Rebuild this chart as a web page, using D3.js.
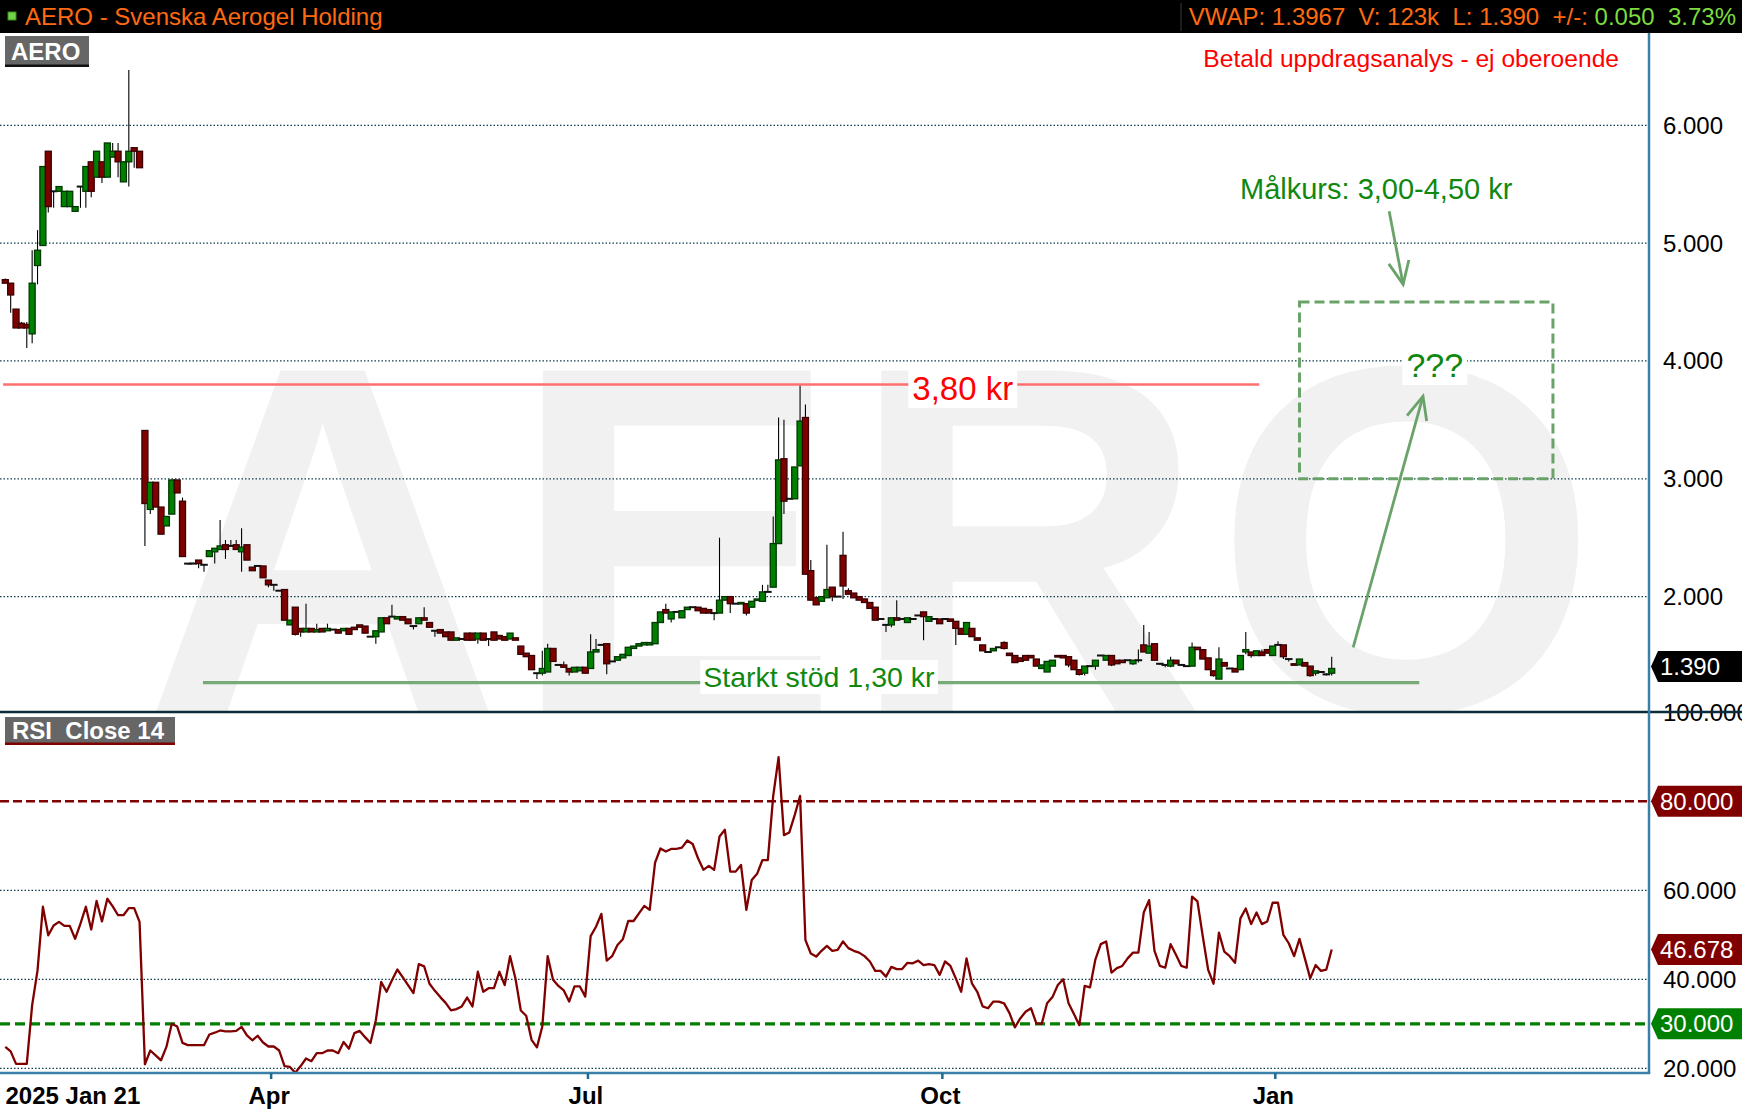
<!DOCTYPE html>
<html>
<head>
<meta charset="utf-8">
<script src="https://cdn.jsdelivr.net/npm/d3@7"></script>
<style>
html,body{margin:0;padding:0;background:#fff;overflow:hidden}
svg{display:block;font-family:"Liberation Sans",Arial,sans-serif}
</style>
</head>
<body>
<div id="chart"></div>
<script>
/* handelsdagar: första dag, dag efter sista, stängda dagar */
var firstDay = "2025-01-21", endDay = "2026-01-20";
var holidays = ["2025-04-18","2025-04-21","2025-05-01","2025-05-29","2025-06-06","2025-06-20",
  "2025-12-24","2025-12-25","2025-12-26","2025-12-31","2026-01-01","2026-01-06"];
var tickMonths = [3, 6, 9, 0];

/* kursdata (öppning, högsta, lägsta, stängning) */
var opens = [4.69,4.66,4.44,4.32,4.31,4.23,4.81,4.98,5.78,5.44,
  5.44,5.31,5.31,5.27,5.48,5.44,5.69,5.56,5.69,5.56,
  5.73,5.78,5.52,5.69,5.81,5.78,3.41,2.74,2.97,2.76,
  2.60,2.70,2.99,2.81,2.28,2.28,2.31,2.27,2.34,2.38,
  2.40,2.44,2.43,2.44,2.38,2.44,2.25,2.26,2.26,2.14,
  2.10,2.05,2.06,1.76,1.91,1.73,1.70,1.73,1.70,1.73,
  1.71,1.72,1.72,1.71,1.73,1.74,1.76,1.75,1.66,1.66,
  1.70,1.82,1.83,1.81,1.83,1.81,1.75,1.77,1.82,1.78,
  1.71,1.72,1.70,1.70,1.63,1.64,1.69,1.69,1.64,1.69,
  1.64,1.70,1.67,1.66,1.64,1.65,1.58,1.52,1.50,1.35,
  1.35,1.36,1.56,1.42,1.42,1.39,1.36,1.37,1.40,1.39,
  1.53,1.59,1.60,1.45,1.46,1.48,1.50,1.56,1.58,1.59,
  1.59,1.60,1.78,1.89,1.81,1.87,1.82,1.89,1.91,1.91,
  1.90,1.89,1.86,1.86,1.97,2.00,1.94,1.94,1.94,1.91,
  1.97,1.96,2.04,2.08,2.45,3.17,2.83,2.83,3.11,3.52,
  2.22,1.99,1.96,1.99,2.08,2.00,2.35,2.05,2.03,2.00,
  1.98,1.95,1.91,1.81,1.76,1.76,1.82,1.81,1.78,1.81,
  1.84,1.87,1.79,1.81,1.81,1.81,1.81,1.79,1.73,1.68,
  1.73,1.65,1.59,1.53,1.54,1.57,1.61,1.52,1.50,1.48,
  1.50,1.50,1.47,1.39,1.36,1.41,1.50,1.50,1.49,1.46,
  1.38,1.35,1.41,1.41,1.50,1.46,1.50,1.46,1.46,1.46,
  1.43,1.46,1.59,1.52,1.60,1.43,1.42,1.41,1.46,1.42,
  1.41,1.41,1.57,1.55,1.48,1.37,1.30,1.44,1.39,1.39,
  1.38,1.53,1.53,1.50,1.53,1.55,1.50,1.59,1.59,1.47,
  1.43,1.42,1.44,1.41,1.35,1.36,1.34,1.35];
var highs = [4.70,4.66,4.44,4.33,4.33,4.94,5.11,5.65,5.78,5.44,
  5.48,5.44,5.44,5.31,5.48,5.65,5.69,5.78,5.69,5.85,
  5.85,5.85,5.69,6.47,5.81,5.78,3.41,2.97,2.97,2.76,
  2.68,2.99,2.99,2.84,2.28,2.29,2.31,2.27,2.39,2.41,
  2.65,2.48,2.48,2.48,2.58,2.44,2.25,2.26,2.26,2.14,
  2.10,2.05,2.06,1.80,1.91,1.73,1.94,1.73,1.77,1.73,
  1.77,1.72,1.72,1.73,1.73,1.74,1.76,1.75,1.66,1.71,
  1.82,1.82,1.93,1.83,1.83,1.81,1.75,1.82,1.91,1.78,
  1.71,1.72,1.70,1.70,1.65,1.64,1.69,1.69,1.69,1.69,
  1.64,1.70,1.67,1.66,1.69,1.65,1.58,1.52,1.50,1.35,
  1.54,1.60,1.56,1.42,1.45,1.39,1.40,1.40,1.40,1.68,
  1.64,1.59,1.60,1.45,1.49,1.51,1.57,1.58,1.60,1.61,
  1.61,1.78,1.87,1.94,1.87,1.87,1.88,1.91,1.91,1.91,
  1.90,1.89,1.86,2.50,2.00,2.00,1.94,1.95,1.94,1.96,
  1.98,2.10,2.10,2.68,3.52,3.50,2.83,3.10,3.79,3.63,
  2.31,1.99,2.00,2.44,2.08,2.00,2.55,2.07,2.03,2.00,
  1.98,1.95,1.91,1.81,1.76,1.82,1.97,1.81,1.82,1.81,
  1.84,1.87,1.83,1.81,1.81,1.81,1.81,1.79,1.73,1.78,
  1.73,1.65,1.59,1.53,1.56,1.57,1.62,1.52,1.50,1.48,
  1.50,1.50,1.47,1.42,1.45,1.46,1.50,1.50,1.49,1.46,
  1.38,1.41,1.41,1.46,1.50,1.50,1.50,1.46,1.46,1.46,
  1.46,1.55,1.76,1.70,1.60,1.43,1.42,1.49,1.46,1.42,
  1.41,1.61,1.57,1.55,1.48,1.37,1.57,1.44,1.39,1.39,
  1.50,1.70,1.53,1.54,1.55,1.55,1.58,1.62,1.59,1.47,
  1.43,1.47,1.44,1.41,1.37,1.36,1.35,1.49];
var lows = [4.66,4.41,4.28,4.28,4.11,4.15,4.65,4.98,5.26,5.30,
  5.44,5.31,5.31,5.27,5.30,5.30,5.39,5.56,5.51,5.56,
  5.73,5.56,5.52,5.48,5.64,5.64,2.43,2.70,2.76,2.53,
  2.60,2.70,2.88,2.34,2.27,2.28,2.24,2.21,2.34,2.28,
  2.40,2.32,2.43,2.40,2.21,2.31,2.22,2.26,2.16,2.08,
  2.05,2.05,1.80,1.76,1.67,1.66,1.70,1.70,1.70,1.70,
  1.71,1.72,1.69,1.71,1.68,1.72,1.74,1.69,1.66,1.60,
  1.70,1.77,1.83,1.81,1.80,1.77,1.72,1.77,1.80,1.74,
  1.66,1.69,1.66,1.63,1.63,1.64,1.63,1.63,1.60,1.63,
  1.58,1.63,1.64,1.63,1.64,1.63,1.51,1.49,1.38,1.30,
  1.33,1.36,1.45,1.42,1.40,1.33,1.36,1.37,1.35,1.39,
  1.53,1.59,1.34,1.45,1.46,1.48,1.50,1.56,1.58,1.59,
  1.59,1.60,1.78,1.86,1.78,1.87,1.82,1.89,1.91,1.88,
  1.86,1.86,1.80,1.86,1.97,1.86,1.94,1.94,1.84,1.91,
  1.97,1.96,2.04,2.08,2.45,2.70,2.83,2.83,3.11,2.19,
  1.97,1.93,1.96,1.99,1.96,2.00,1.98,2.02,1.99,1.97,
  1.95,1.90,1.80,1.81,1.70,1.74,1.80,1.81,1.78,1.81,
  1.84,1.63,1.79,1.81,1.77,1.81,1.79,1.59,1.68,1.68,
  1.66,1.63,1.54,1.53,1.54,1.57,1.55,1.50,1.44,1.45,
  1.46,1.48,1.41,1.39,1.36,1.41,1.49,1.48,1.40,1.38,
  1.33,1.33,1.41,1.38,1.50,1.46,1.41,1.43,1.44,1.46,
  1.42,1.44,1.53,1.52,1.46,1.42,1.40,1.40,1.43,1.42,
  1.41,1.41,1.55,1.47,1.38,1.32,1.30,1.41,1.39,1.36,
  1.38,1.51,1.48,1.50,1.50,1.52,1.50,1.59,1.47,1.45,
  1.42,1.42,1.41,1.32,1.33,1.36,1.33,1.33];
var closes = [4.66,4.56,4.28,4.28,4.28,4.66,4.94,5.65,5.31,5.44,
  5.48,5.44,5.44,5.31,5.48,5.65,5.44,5.78,5.56,5.85,
  5.78,5.69,5.69,5.78,5.78,5.64,2.79,2.97,2.76,2.53,
  2.68,2.99,2.88,2.34,2.28,2.28,2.28,2.27,2.39,2.41,
  2.43,2.40,2.43,2.40,2.42,2.31,2.22,2.26,2.16,2.10,
  2.10,2.05,1.80,1.80,1.68,1.70,1.73,1.70,1.72,1.70,
  1.73,1.72,1.69,1.73,1.68,1.72,1.74,1.69,1.66,1.71,
  1.82,1.77,1.83,1.83,1.80,1.77,1.75,1.82,1.80,1.74,
  1.71,1.69,1.66,1.63,1.65,1.64,1.63,1.63,1.69,1.63,
  1.64,1.63,1.64,1.63,1.69,1.63,1.51,1.49,1.38,1.35,
  1.39,1.56,1.45,1.42,1.40,1.36,1.40,1.40,1.35,1.53,
  1.55,1.59,1.43,1.45,1.49,1.51,1.57,1.58,1.60,1.61,
  1.61,1.78,1.87,1.86,1.87,1.87,1.88,1.91,1.91,1.88,
  1.86,1.86,1.86,1.97,2.00,1.94,1.94,1.95,1.86,1.96,
  1.98,2.04,2.04,2.45,3.16,2.81,2.83,3.10,3.49,2.19,
  1.97,1.93,2.00,2.06,2.00,2.00,2.09,2.02,1.99,1.97,
  1.95,1.90,1.80,1.81,1.76,1.82,1.80,1.81,1.82,1.81,
  1.84,1.83,1.83,1.81,1.77,1.81,1.79,1.73,1.68,1.78,
  1.66,1.63,1.54,1.53,1.56,1.57,1.56,1.50,1.44,1.45,
  1.46,1.48,1.41,1.42,1.45,1.46,1.49,1.48,1.42,1.38,
  1.34,1.41,1.41,1.46,1.50,1.50,1.42,1.43,1.44,1.46,
  1.46,1.46,1.53,1.58,1.46,1.43,1.42,1.46,1.43,1.42,
  1.41,1.57,1.55,1.47,1.38,1.33,1.47,1.41,1.39,1.36,
  1.50,1.55,1.50,1.54,1.50,1.52,1.58,1.59,1.49,1.47,
  1.42,1.47,1.41,1.33,1.37,1.36,1.34,1.39];

/* RSI Close 14 */
var rsi = [24.8,23.8,21.0,21.0,21.0,34.2,42.0,56.3,49.9,52.1,
  52.9,52.0,52.0,49.1,52.5,56.3,51.2,57.6,53.0,58.1,
  56.4,54.4,54.4,56.0,56.0,52.9,20.9,24.0,22.9,21.8,
  24.8,30.0,29.4,25.7,25.2,25.2,25.2,25.2,27.6,28.0,
  28.5,28.3,28.3,28.4,29.3,27.4,26.3,27.3,25.8,24.9,
  24.9,24.0,20.5,20.3,19.0,20.5,22.2,21.6,23.4,23.4,
  24.0,24.0,23.4,25.9,24.4,27.9,28.4,27.0,25.7,30.8,
  39.4,37.2,39.8,42.2,40.5,38.7,36.9,43.4,42.9,39.0,
  37.4,36.0,34.7,33.0,33.3,33.9,35.9,33.9,41.7,37.2,
  38.0,38.0,41.7,38.7,45.2,40.2,33.0,31.8,26.4,24.7,
  29.4,45.2,39.9,38.5,37.5,35.0,38.4,38.4,36.1,49.7,
  51.8,54.7,44.2,45.2,47.7,49.0,53.1,53.1,54.8,56.5,
  55.6,66.2,69.4,68.7,69.3,69.3,69.6,71.2,70.4,67.2,
  64.6,65.5,64.6,72.1,73.6,64.2,64.2,65.7,55.6,62.3,
  63.7,66.8,66.8,81.2,89.9,72.4,73.0,76.9,81.2,48.8,
  45.8,45.1,46.4,47.5,46.4,46.6,48.5,47.0,46.4,46.0,
  45.2,44.0,41.9,41.9,40.6,42.8,42.3,42.3,43.7,43.6,
  44.2,43.2,43.4,43.2,41.0,44.0,43.0,40.2,37.2,44.7,
  39.1,37.2,33.9,33.5,35.0,35.0,34.6,32.4,29.2,31.2,
  32.7,33.5,30.1,30.0,34.6,36.0,38.7,40.0,34.6,32.2,
  29.7,38.5,38.2,44.5,47.9,48.5,41.5,42.5,43.0,44.7,
  46.0,46.0,55.0,57.8,46.4,43.0,42.6,47.9,45.5,43.0,
  42.6,58.6,57.5,49.6,42.1,39.0,50.5,46.2,45.2,43.7,
  53.7,55.9,52.4,55.0,52.4,53.0,57.2,57.2,50.0,48.1,
  45.2,49.1,44.7,40.2,43.2,41.9,42.2,46.7];

var priceTicks = [2, 3, 4, 5, 6];
var rsiGrid = [20, 40, 60];
var rsiTicks = [20, 40, 60, 100];
var rsiOver = 80, rsiUnder = 30;
var lastPrice = 1.390, lastRsi = 46.678;
var resistance = 3.80, support = 1.27;
var target = [3.00, 4.50];
var headerLeft = "AERO - Svenska Aerogel Holding";
var headerQuote = "VWAP: 1.3967  V: 123k  L: 1.390  +/-: ";
var headerChange = "0.050  3.73%";

/* mått */
var W = 1742, H = 1113;
var axisX = 1649, barH = 33, split = 712, rsiBottom = 1073;
var gridColor = "#0e3d50", axisColor = "#3a7fa8", annColor = "#6aa36a";

var fmtDay = d3.timeFormat("%Y-%m-%d");
var parseDay = d3.timeParse("%Y-%m-%d");
var days = d3.timeDay.range(parseDay(firstDay), parseDay(endDay)).filter(function (d) {
    var w = d.getDay();
    return w > 0 && w < 6 && holidays.indexOf(fmtDay(d)) < 0;
});

var n = closes.length;
var x = d3.scaleLinear().domain([0, n - 1]).range([5.3, 1331.7]);
var y = d3.scaleLinear().domain([2, 6]).range([596.6, 125.3]);
var yR = d3.scaleLinear().domain([20, 80]).range([1068.3, 801.3]);

var svg = d3.select("#chart").append("svg")
    .attr("width", W).attr("height", H)
    .style("background", "#fff");

var defs = svg.append("defs");
defs.append("clipPath").attr("id", "clipP").append("rect")
    .attr("x", 0).attr("y", barH).attr("width", axisX).attr("height", split - barH);
defs.append("clipPath").attr("id", "clipR").append("rect")
    .attr("x", 0).attr("y", split).attr("width", axisX).attr("height", rsiBottom - split);

/* kurspanel */
var gP = svg.append("g").attr("clip-path", "url(#clipP)");

gP.append("text")
    .attr("x", 144).attr("y", 711)
    .attr("font-size", 495).attr("font-weight", "bold")
    .attr("fill", "#f1f1f1")
    .attr("textLength", 1455).attr("lengthAdjust", "spacing")
    .text("AERO");

gP.selectAll("line.grid").data(priceTicks).enter().append("line")
    .attr("x1", 0).attr("x2", axisX)
    .attr("y1", function (d) { return y(d); }).attr("y2", function (d) { return y(d); })
    .attr("stroke", gridColor).attr("stroke-width", 1.2).attr("stroke-dasharray", "1.5,2");

/* motstånd och stöd */
gP.append("line")
    .attr("x1", x(-0.4)).attr("x2", x(233.5))
    .attr("y1", y(resistance)).attr("y2", y(resistance))
    .attr("stroke", "#ff6e6e").attr("stroke-width", 2.4);
gP.append("line")
    .attr("x1", x(36.8)).attr("x2", x(263.3))
    .attr("y1", y(support)).attr("y2", y(support))
    .attr("stroke", annColor).attr("stroke-width", 3.2).attr("opacity", 0.9);

/* candlesticks */
var bw = 6;
var c = gP.selectAll("g.c").data(d3.range(n)).enter().append("g");
c.append("line")
    .attr("x1", function (i) { return x(i); }).attr("x2", function (i) { return x(i); })
    .attr("y1", function (i) { return y(highs[i]); }).attr("y2", function (i) { return y(lows[i]); })
    .attr("stroke", "#000").attr("stroke-width", 1.1);
c.filter(function (i) { return opens[i] !== closes[i]; }).append("rect")
    .attr("x", function (i) { return x(i) - bw / 2; })
    .attr("y", function (i) { return y(Math.max(opens[i], closes[i])); })
    .attr("width", bw)
    .attr("height", function (i) { return Math.max(1.5, Math.abs(y(opens[i]) - y(closes[i]))); })
    .attr("fill", function (i) { return closes[i] > opens[i] ? "#008000" : "#800000"; })
    .attr("stroke", function (i) { return closes[i] > opens[i] ? "#003800" : "#380000"; })
    .attr("stroke-width", 1.3);
c.filter(function (i) { return opens[i] === closes[i]; }).append("line")
    .attr("x1", function (i) { return x(i) - 3.8; }).attr("x2", function (i) { return x(i) + 3.8; })
    .attr("y1", function (i) { return y(closes[i]); }).attr("y2", function (i) { return y(closes[i]); })
    .attr("stroke", "#111").attr("stroke-width", 2);

/* text med vit bakgrund */
function boxedText(g, tx, ty, size, color, str, pad) {
    var t = g.append("text").attr("x", tx).attr("y", ty)
        .attr("font-size", size).attr("fill", color)
        .attr("text-anchor", "middle").text(str);
    var b = t.node().getBBox();
    g.insert("rect", function () { return t.node(); })
        .attr("x", b.x - pad).attr("y", b.y - 1)
        .attr("width", b.width + pad * 2).attr("height", b.height + 2)
        .attr("fill", "#fff");
    return t;
}
var gA = svg.append("g");
boxedText(gA, x(178.3), 400, 33, "#ff0000", "3,80 kr", 4);
boxedText(gA, x(151.5), 687, 28.5, "#108810", "Starkt stöd 1,30 kr", 3);

/* målkurs-ruta */
gA.append("rect")
    .attr("x", x(241)).attr("y", y(target[1]))
    .attr("width", x(288.2) - x(241)).attr("height", y(target[0]) - y(target[1]))
    .attr("fill", "none").attr("stroke", annColor).attr("stroke-width", 3)
    .attr("stroke-dasharray", "10,5");
boxedText(gA, x(266.2), 377, 34, "#108810", "???", 4);

function arrow(g, i0, p0, i1, p1) {
    var x0 = x(i0), y0 = y(p0), x1 = x(i1), y1 = y(p1);
    var a = Math.atan2(y0 - y1, x0 - x1), len = 25, sp = 0.42;
    g.append("line").attr("x1", x0).attr("y1", y0).attr("x2", x1).attr("y2", y1)
        .attr("stroke", annColor).attr("stroke-width", 2.8);
    g.append("path")
        .attr("d", "M" + (x1 + len * Math.cos(a - sp)) + "," + (y1 + len * Math.sin(a - sp)) +
            "L" + x1 + "," + y1 +
            "L" + (x1 + len * Math.cos(a + sp)) + "," + (y1 + len * Math.sin(a + sp)))
        .attr("fill", "none").attr("stroke", annColor).attr("stroke-width", 2.8);
}
arrow(gA, 251, 1.57, 264, 3.70);
arrow(gA, 257.7, 5.27, 260.3, 4.65);

gA.append("text").attr("x", 1240).attr("y", 199)
    .attr("font-size", 29).attr("fill", "#108810")
    .text("Målkurs: 3,00-4,50 kr");
gA.append("text").attr("x", 1619).attr("y", 67)
    .attr("font-size", 24.6).attr("fill", "#ff0000").attr("text-anchor", "end")
    .text("Betald uppdragsanalys - ej oberoende");

/* AERO-etikett */
svg.append("rect").attr("x", 5).attr("y", 36).attr("width", 84).attr("height", 30.5).attr("fill", "#666");
svg.append("rect").attr("x", 5).attr("y", 64.5).attr("width", 84).attr("height", 2.5).attr("fill", "#111");
svg.append("text").attr("x", 11).attr("y", 59.5).attr("font-size", 24).attr("font-weight", "bold")
    .attr("fill", "#fff").text("AERO");

/* RSI-panel */
var gR = svg.append("g");
gR.selectAll("line.rg").data(rsiGrid).enter().append("line")
    .attr("x1", 0).attr("x2", axisX)
    .attr("y1", function (d) { return yR(d); }).attr("y2", function (d) { return yR(d); })
    .attr("stroke", gridColor).attr("stroke-width", 1.2).attr("stroke-dasharray", "1.5,2");
gR.append("line").attr("x1", 0).attr("x2", axisX)
    .attr("y1", yR(rsiOver)).attr("y2", yR(rsiOver))
    .attr("stroke", "#800000").attr("stroke-width", 2.6).attr("stroke-dasharray", "9,4");
gR.append("line").attr("x1", 0).attr("x2", axisX)
    .attr("y1", yR(rsiUnder)).attr("y2", yR(rsiUnder))
    .attr("stroke", "#008000").attr("stroke-width", 3.2).attr("stroke-dasharray", "10,5");
gR.append("path").datum(rsi)
    .attr("clip-path", "url(#clipR)")
    .attr("d", d3.line().x(function (d, i) { return x(i); }).y(function (d) { return yR(d); }))
    .attr("fill", "none").attr("stroke", "#800000").attr("stroke-width", 2.3)
    .attr("stroke-linejoin", "round");

svg.append("rect").attr("x", 5).attr("y", 717).attr("width", 170).attr("height", 28).attr("fill", "#666");
svg.append("rect").attr("x", 5).attr("y", 742.5).attr("width", 170).attr("height", 2.5).attr("fill", "#800000");
svg.append("text").attr("x", 12).attr("y", 739).attr("font-size", 24).attr("font-weight", "bold")
    .attr("fill", "#fff").style("white-space", "pre").text("RSI  Close 14");

/* högra axeln */
var gY = svg.append("g").attr("font-size", 24).attr("fill", "#000");
gY.selectAll("text.p").data(priceTicks).enter().append("text")
    .attr("x", 1663).attr("y", function (d) { return y(d) + 8.5; })
    .text(function (d) { return d3.format(".3f")(d); });
gY.selectAll("text.r").data(rsiTicks).enter().append("text")
    .attr("x", 1663).attr("y", function (d) { return yR(d) + 8.5; })
    .text(function (d) { return d3.format(".3f")(d); });

function tag(yy, str, fill) {
    var h = 15.5;
    svg.append("path")
        .attr("d", "M1651," + yy + "L1658," + (yy - h) + "L" + W + "," + (yy - h) +
            "L" + W + "," + (yy + h) + "L1658," + (yy + h) + "Z")
        .attr("fill", fill);
    svg.append("text").attr("x", 1660).attr("y", yy + 8.5)
        .attr("font-size", 24).attr("fill", "#fff").text(str);
}
tag(y(lastPrice) - 2, d3.format(".3f")(lastPrice), "#000");
tag(yR(rsiOver), d3.format(".3f")(rsiOver), "#800000");
tag(yR(lastRsi), d3.format(".3f")(lastRsi), "#800000");
tag(yR(rsiUnder), d3.format(".3f")(rsiUnder), "#008000");

/* ramlinjer */
svg.append("line").attr("x1", 0).attr("x2", W).attr("y1", split).attr("y2", split)
    .attr("stroke", "#0d2b3b").attr("stroke-width", 2.4);
svg.append("line").attr("x1", axisX).attr("x2", axisX).attr("y1", barH).attr("y2", rsiBottom)
    .attr("stroke", axisColor).attr("stroke-width", 2.5);
svg.append("line").attr("x1", 0).attr("x2", axisX + 1.25).attr("y1", rsiBottom).attr("y2", rsiBottom)
    .attr("stroke", axisColor).attr("stroke-width", 2.5);

/* tidsaxel */
var ticks = [];
days.forEach(function (d, i) {
    if (i > 0 && i < n && d.getMonth() !== days[i - 1].getMonth() && tickMonths.indexOf(d.getMonth()) >= 0) ticks.push(i);
});
var gX = svg.append("g").attr("font-size", 24).attr("font-weight", "bold").attr("fill", "#000");
gX.selectAll("rect").data(ticks).enter().append("rect")
    .attr("x", function (i) { return x(i - 0.5) - 1.25; }).attr("y", rsiBottom)
    .attr("width", 2.5).attr("height", 6).attr("fill", "#1f6a90");
gX.selectAll("text.m").data(ticks).enter().append("text")
    .attr("x", function (i) { return x(i - 0.5) - 2; }).attr("y", 1104)
    .attr("text-anchor", "middle")
    .text(function (i) { return d3.timeFormat("%b")(days[i]); });
gX.append("text").attr("x", 5.5).attr("y", 1104)
    .text(d3.timeFormat("%Y %b %-d")(days[0]));

/* rubrikrad */
svg.append("rect").attr("x", 0).attr("y", 0).attr("width", W).attr("height", barH).attr("fill", "#000");
svg.append("rect").attr("x", 8).attr("y", 12).attr("width", 8).attr("height", 8)
    .attr("fill", "#72d448").attr("stroke", "#3c8a20").attr("stroke-width", 1);
svg.append("line").attr("x1", 1181).attr("x2", 1181).attr("y1", 3).attr("y2", 31)
    .attr("stroke", "#3a3a3a").attr("stroke-width", 1);
svg.append("text").attr("x", 25).attr("y", 25).attr("font-size", 24).attr("fill", "#ff6a10")
    .text(headerLeft);
var hq = svg.append("text").attr("x", 1736).attr("y", 25).attr("font-size", 24)
    .attr("text-anchor", "end").style("white-space", "pre");
hq.append("tspan").attr("fill", "#ff6a10").text(headerQuote);
hq.append("tspan").attr("fill", "#7cdc3c").text(headerChange);
</script>
</body>
</html>
